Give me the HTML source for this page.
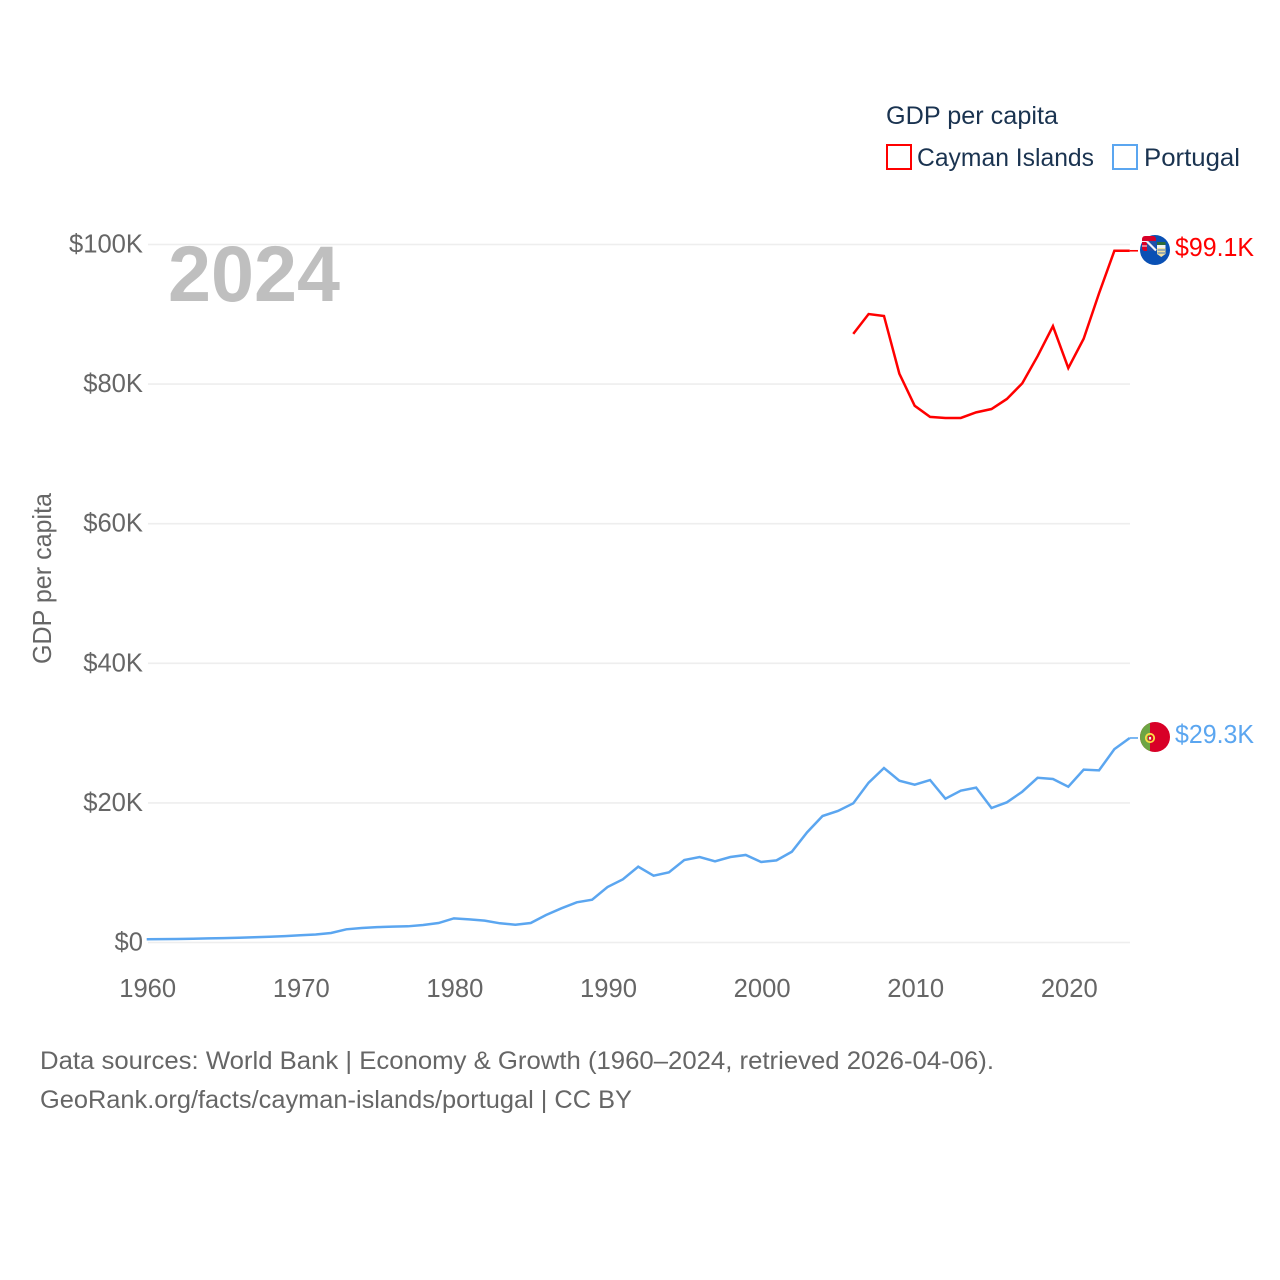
<!DOCTYPE html>
<html lang="en">
<head>
<meta charset="utf-8">
<title>GDP per capita: Cayman Islands and Portugal</title>
<style>
html,body{margin:0;padding:0;background:#fff;width:1280px;height:1280px;overflow:hidden}
svg{display:block}
text{font-family:"Liberation Sans",sans-serif}
.tick{font-size:25.6px;fill:#666}
.src{font-size:25px;fill:#666}
.leg{font-size:25px;fill:#1a3350}
</style>
</head>
<body>
<svg id="chart" xmlns="http://www.w3.org/2000/svg" width="1280" height="1280" viewBox="0 0 1280 1280">
  <defs>
    <clipPath id="flag-clip-ky"><circle cx="1155" cy="250" r="15"/></clipPath>
    <clipPath id="flag-clip-pt"><circle cx="1155" cy="737" r="15"/></clipPath>
  </defs>
  <rect width="1280" height="1280" fill="#fff"/>
  <g id="grid"></g>
  <g id="yticks"></g>
  <g id="xticks"></g>
  <text x="168" y="301" font-size="79" font-weight="700" fill="#bfbfbf" textLength="172" lengthAdjust="spacingAndGlyphs">2024</text>
  <text class="tick" transform="translate(51,664) rotate(-90)" textLength="171" lengthAdjust="spacingAndGlyphs">GDP per capita</text>
  <g id="series"></g>

  <g>
    <g clip-path="url(#flag-clip-ky)">
      <rect x="1140" y="235" width="30" height="30" fill="#0a50b4"/>
      <rect x="1157" y="242" width="8.500" height="3" fill="#2e6b3a"/>
      <rect x="1157" y="245" width="8.500" height="3" fill="#f2f2f2"/>
      <path d="M1157 248h8.500v6l-4.250 3-4.250-3z" fill="#f0e0a0"/>
      <path d="M1157.500 250h7.500M1157.500 253h7.500" stroke="#3f74c0" stroke-width="1"/>
    </g>
    <rect x="1142" y="236" width="14" height="15" rx="3" fill="#d80027"/>
    <rect x="1147" y="241" width="9" height="10" fill="#1f4fa8"/>
    <path d="M1147 241.500l9 9" stroke="#f4f4f8" stroke-width="2.200"/>
    <path d="M1142 241.500h5M1142 246h5" stroke="#f4f4f8" stroke-width="1"/>
  </g>
  <g clip-path="url(#flag-clip-pt)">
    <rect x="1140" y="722" width="30" height="30" fill="#d80027"/>
    <rect x="1140" y="722" width="10" height="30" fill="#6da544"/>
    <circle cx="1150" cy="738" r="4.200" fill="none" stroke="#ffda44" stroke-width="1.800"/>
    <rect x="1148.500" y="736.500" width="3" height="3.500" fill="#f4f4f4" stroke="#d80027" stroke-width="0.800"/>
  </g>

  <text id="label-ky" x="1175" y="256" font-size="25.500" fill="#ff0000" textLength="79" lengthAdjust="spacingAndGlyphs"></text>
  <text id="label-pt" x="1175" y="743" font-size="25.500" fill="#5ba6f0" textLength="79" lengthAdjust="spacingAndGlyphs"></text>

  <g>
    <text class="leg" x="886" y="124" textLength="172" lengthAdjust="spacingAndGlyphs">GDP per capita</text>
    <g>
      <rect x="887" y="145" width="24" height="24" fill="#fff" stroke="#ff0000" stroke-width="2"/>
      <text class="leg" x="917" y="166" textLength="177" lengthAdjust="spacingAndGlyphs">Cayman Islands</text>
    </g>
    <g>
      <rect x="1113" y="145" width="24" height="24" fill="#fff" stroke="#5ba6f0" stroke-width="2"/>
      <text class="leg" x="1144" y="166" textLength="96" lengthAdjust="spacingAndGlyphs">Portugal</text>
    </g>
  </g>

  <g>
    <text class="src" x="40" y="1069" textLength="954" lengthAdjust="spacingAndGlyphs">Data sources: World Bank | Economy &amp; Growth (1960–2024, retrieved 2026-04-06).</text>
    <text class="src" x="40" y="1108" textLength="592" lengthAdjust="spacingAndGlyphs">GeoRank.org/facts/cayman-islands/portugal | CC BY</text>
  </g>
</svg>
<script>
// Chart data (GDP per capita, thousands of USD)
const yTicks = [0, 20, 40, 60, 80, 100];
const yTickLabels = ["$0", "$20K", "$40K", "$60K", "$80K", "$100K"];
const xTicks = [1960, 1970, 1980, 1990, 2000, 2010, 2020];
const portugalStartYear = 1960;
const portugalValues = [
  0.47, 0.48, 0.50, 0.54, 0.59, 0.63, 0.68, 0.76, 0.83, 0.92,
  1.03, 1.15, 1.36, 1.89, 2.08, 2.20, 2.27, 2.32, 2.50, 2.79,
  3.46, 3.32, 3.13, 2.75, 2.55, 2.79, 3.94, 4.90, 5.76, 6.13,
  7.95, 9.05, 10.86, 9.57, 10.05, 11.82, 12.25, 11.63, 12.25, 12.54,
  11.53, 11.77, 13.00, 15.80, 18.12, 18.84, 19.94, 22.90, 25.00, 23.18,
  22.60, 23.28, 20.60, 21.75, 22.18, 19.27, 20.08, 21.60, 23.60, 23.42,
  22.32, 24.76, 24.66, 27.70, 29.30
];
const caymanStartYear = 2006;
const caymanValues = [
  87.20, 90.04, 89.76, 81.50, 76.90, 75.30, 75.15, 75.15, 75.95, 76.43,
  77.87, 80.10, 84.00, 88.30, 82.30, 86.50, 93.00, 99.10, 99.10
];
const portugalLabel = "$29.3K";
const caymanLabel = "$99.1K";

const NS = "http://www.w3.org/2000/svg";
const xScale = function (year) { return 146.7 + (year - 1960) * 15.36; };
const tickX = function (year) { return 147.7 + (year - 1960) * 15.36; };
const yScale = function (v) { return 942.5 - v * 6.98; };

const grid = document.getElementById("grid");
const yGroup = document.getElementById("yticks");
const xGroup = document.getElementById("xticks");
const seriesGroup = document.getElementById("series");

yTicks.forEach(function (t, i) {
  const line = document.createElementNS(NS, "line");
  
  
  line.setAttribute("x1", 148);
  line.setAttribute("x2", 1130);
  line.setAttribute("y1", yScale(t));
  line.setAttribute("y2", yScale(t));
  line.setAttribute("stroke", "#eeeeee");
  line.setAttribute("stroke-width", 1.6);
  grid.appendChild(line);

  const label = document.createElementNS(NS, "text");
  
  
  label.setAttribute("class", "tick");
  label.setAttribute("x", 143);
  label.setAttribute("y", yScale(t) + 8);
  label.setAttribute("text-anchor", "end");
  label.textContent = yTickLabels[i];
  yGroup.appendChild(label);
});

xTicks.forEach(function (t) {
  const label = document.createElementNS(NS, "text");
  
  
  label.setAttribute("class", "tick");
  label.setAttribute("x", tickX(t));
  label.setAttribute("y", 997);
  label.setAttribute("text-anchor", "middle");
  label.textContent = t;
  xGroup.appendChild(label);
});

function buildPoints(startYear, values) {
  return values.map(function (v, i) {
    return xScale(startYear + i).toFixed(2) + "," + yScale(v).toFixed(2);
  }).join(" ");
}

const caymanLine = document.createElementNS(NS, "polyline");


caymanLine.setAttribute("points", buildPoints(caymanStartYear, caymanValues));
caymanLine.setAttribute("fill", "none");
caymanLine.setAttribute("stroke", "#ff0000");
caymanLine.setAttribute("stroke-width", 2.5);
seriesGroup.appendChild(caymanLine);

const portugalLine = document.createElementNS(NS, "polyline");


portugalLine.setAttribute("points", buildPoints(portugalStartYear, portugalValues));
portugalLine.setAttribute("fill", "none");
portugalLine.setAttribute("stroke", "#5ba6f0");
portugalLine.setAttribute("stroke-width", 2.5);
seriesGroup.appendChild(portugalLine);

const caymanLeader = document.createElementNS(NS, "line");


caymanLeader.setAttribute("x1", xScale(2024));
caymanLeader.setAttribute("x2", 1138);
caymanLeader.setAttribute("y1", yScale(caymanValues[caymanValues.length - 1]));
caymanLeader.setAttribute("y2", yScale(caymanValues[caymanValues.length - 1]));
caymanLeader.setAttribute("stroke", "#ff0000");
caymanLeader.setAttribute("stroke-width", 1.6);
seriesGroup.appendChild(caymanLeader);

const portugalLeader = document.createElementNS(NS, "line");


portugalLeader.setAttribute("x1", xScale(2024));
portugalLeader.setAttribute("x2", 1138);
portugalLeader.setAttribute("y1", yScale(portugalValues[portugalValues.length - 1]));
portugalLeader.setAttribute("y2", yScale(portugalValues[portugalValues.length - 1]));
portugalLeader.setAttribute("stroke", "#5ba6f0");
portugalLeader.setAttribute("stroke-width", 1.6);
seriesGroup.appendChild(portugalLeader);

document.getElementById("label-ky").textContent = caymanLabel;
document.getElementById("label-pt").textContent = portugalLabel;
</script>
</body>
</html>
